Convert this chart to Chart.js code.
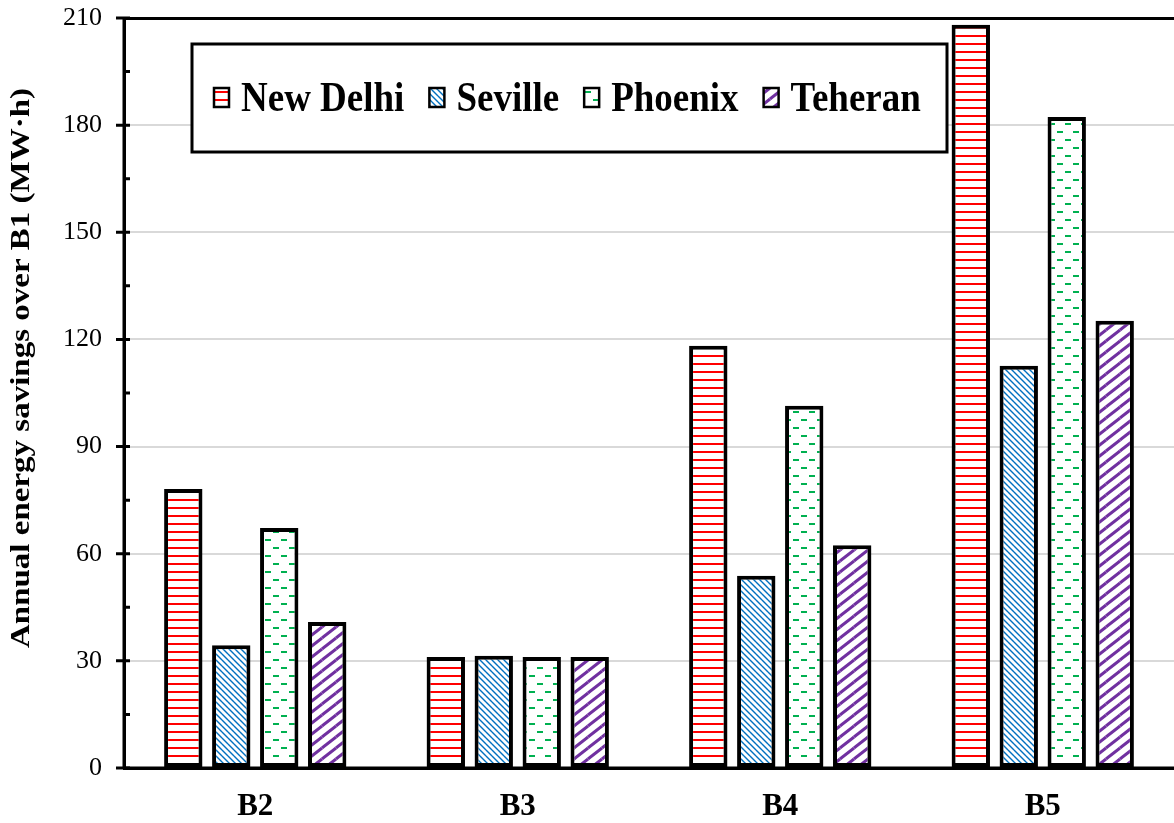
<!DOCTYPE html>
<html>
<head>
<meta charset="utf-8">
<script src="https://cdn.jsdelivr.net/npm/chart.js@4"></script>
<style>
    body { margin: 0; background: #fff; }
    #wrap { width: 1174px; height: 823px; }
</style>
</head>
<body>
<div id="wrap"><canvas id="savingsChart" width="1174" height="823"></canvas></div>
<script>
// Chart data
const categories = ['B2', 'B3', 'B4', 'B5'];
const cityNames = ['New Delhi', 'Seville', 'Phoenix', 'Teheran'];
const newDelhi = [78.1, 31.1, 118.2, 208.1];
const seville = [34.4, 31.4, 53.8, 112.6];
const phoenix = [67.2, 31.1, 101.4, 182.3];
const teheran = [40.9, 31.1, 62.4, 125.2];
const yTicks = [0, 30, 60, 90, 120, 150, 180, 210];
const yTitle = 'Annual energy savings over B1 (MW\u00b7h)';

const SERIF = "'Liberation Serif', 'Times New Roman', serif";

// --- Fill patterns ---
function makeTile(w, h, drawFn) {
    const c = document.createElement('canvas');
    c.width = w; c.height = h;
    const g = c.getContext('2d');
    g.fillStyle = '#fff';
    g.fillRect(0, 0, w, h);
    drawFn(g, w, h);
    return document.createElement('canvas').getContext('2d').createPattern(c, 'repeat');
}

function diagLines(g, w, h, rising, width, color) {
    g.strokeStyle = color;
    g.lineWidth = width;
    for (let dx = -w; dx <= w; dx += w) {
        for (let dy = -h; dy <= h; dy += h) {
            g.beginPath();
            if (rising) {
                g.moveTo(dx, h + dy);
                g.lineTo(w + dx, dy);
            } else {
                g.moveTo(dx, dy);
                g.lineTo(w + dx, h + dy);
            }
            g.stroke();
        }
    }
}

const redLines = makeTile(8, 8, (g) => {
    g.fillStyle = '#ff0000';
    g.fillRect(0, 3, 8, 2);
});
const blueHatch = makeTile(6, 6, (g, w, h) => {
    diagLines(g, w, h, false, 1.4, '#0070c0');
});
const greenDashes = makeTile(16, 16, (g) => {
    g.fillStyle = '#00b050';
    g.fillRect(1, 3, 6, 2);
    g.fillRect(9, 11, 6, 2);
});
const purpleStripes = makeTile(14, 11, (g, w, h) => {
    diagLines(g, w, h, true, 3, '#7030a0');
});

const fills = [redLines, blueHatch, greenDashes, purpleStripes];
const seriesValues = [newDelhi, seville, phoenix, teheran];

// --- Custom drawing: ticks, y title, legend box ---
const decorPlugin = {
    id: 'decor',
    afterDatasetsDraw(chart) {
        const ctx = chart.ctx;
        const area = chart.chartArea;
        const y = chart.scales.y;

        ctx.save();
        // axis lines on top
        ctx.strokeStyle = '#000';
        ctx.lineWidth = 3;
        ctx.beginPath();
        ctx.moveTo(area.left, area.bottom);
        ctx.lineTo(area.right, area.bottom);
        ctx.moveTo(area.left, area.top);
        ctx.lineTo(area.left, area.bottom);
        ctx.stroke();

        // major / minor ticks
        ctx.beginPath();
        for (let v = 0; v <= 210; v += 15) {
            const py = y.getPixelForValue(v);
            if (v % 30 === 0) {
                ctx.moveTo(area.left - 8, py);
            } else {
                ctx.moveTo(area.left, py);
            }
            ctx.lineTo(area.left + 6, py);
        }
        ctx.stroke();

        // y axis title
        ctx.save();
        ctx.translate(22, 368);
        ctx.rotate(-Math.PI / 2);
        ctx.scale(1, 0.85);
        ctx.fillStyle = '#000';
        ctx.font = 'bold 33px ' + SERIF;
        ctx.textAlign = 'center';
        ctx.textBaseline = 'middle';
        ctx.fillText(yTitle, 0, 0);
        ctx.restore();

        // legend box
        const bx = 192, by = 44, bw = 755, bh = 108;
        ctx.fillStyle = '#fff';
        ctx.fillRect(bx, by, bw, bh);
        ctx.lineWidth = 3;
        ctx.strokeRect(bx, by, bw, bh);

        ctx.font = 'bold 37px ' + SERIF;
        ctx.textBaseline = 'alphabetic';
        ctx.textAlign = 'left';
        let x = 214;
        const baseY = 111;
        cityNames.forEach((name, i) => {
            ctx.fillStyle = fills[i];
            ctx.fillRect(x, 88, 15, 19);
            ctx.lineWidth = 2.5;
            ctx.strokeStyle = '#000';
            ctx.strokeRect(x, 88, 15, 19);

            ctx.save();
            ctx.translate(x + 27, baseY);
            ctx.scale(1, 1.12);
            ctx.fillStyle = '#000';
            ctx.fillText(name, 0, 0);
            ctx.restore();
            x = x + 27 + ctx.measureText(name).width + 25;
        });
        ctx.restore();
    }
};

const ctx = document.getElementById('savingsChart');
new Chart(ctx.getContext('2d'), {
    type: 'bar',
    data: {
        labels: categories,
        datasets: cityNames.map((name, i) => ({
            label: name,
            data: seriesValues[i],
            backgroundColor: fills[i],
            borderColor: '#000',
            borderWidth: 4,
            borderSkipped: false,
            categoryPercentage: 0.731,
            barPercentage: 0.8
        }))
    },
    options: {
        responsive: false,
        animation: false,
        layout: { padding: { top: 18, right: 0, bottom: 0, left: 0 } },
        plugins: {
            legend: { display: false },
            tooltip: { enabled: false }
        },
        scales: {
            x: {
                grid: { display: false },
                border: { display: true, color: '#000', width: 3 },
                ticks: {
                    color: '#000',
                    padding: 12,
                    font: { family: SERIF, size: 31, weight: 'bold' }
                },
                afterFit(scale) { scale.height = 55; }
            },
            y: {
                min: 0,
                max: 210,
                afterBuildTicks(scale) {
                    scale.ticks = yTicks.map(v => ({ value: v }));
                },
                grid: {
                    drawTicks: false,
                    color: (c) => {
                        const v = c.tick ? c.tick.value : null;
                        if (v === 210) return '#000';
                        if (v === 0) return 'rgba(0,0,0,0)';
                        return '#d9d9d9';
                    },
                    lineWidth: (c) => (c.tick && c.tick.value === 210 ? 3 : 2)
                },
                border: { display: true, color: '#000', width: 3 },
                ticks: {
                    color: '#000',
                    padding: 22,
                    font: { family: SERIF, size: 26 }
                },
                afterFit(scale) {
                    scale.width = 124;
                    scale.paddingTop = 0;
                    scale.paddingBottom = 0;
                }
            }
        }
    },
    plugins: [decorPlugin]
});
</script>
</body>
</html>
